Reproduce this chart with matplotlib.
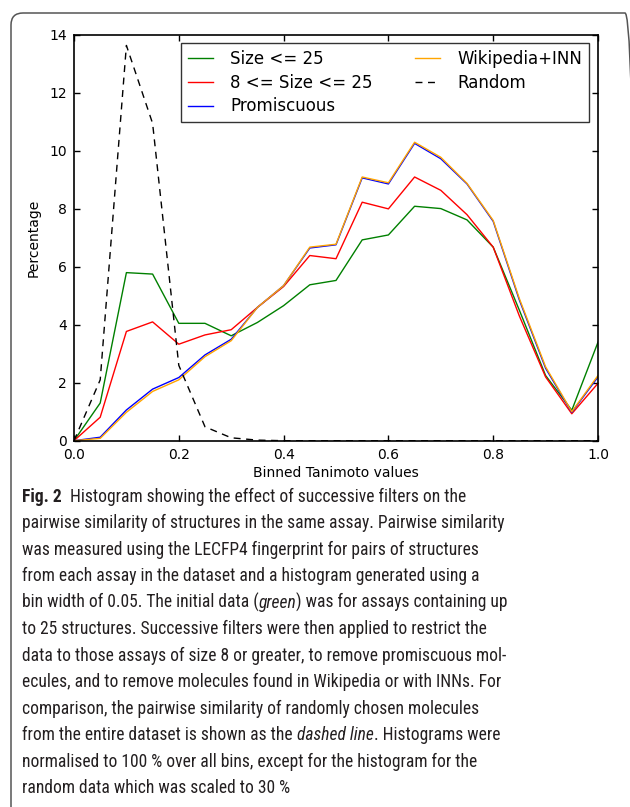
import matplotlib
matplotlib.use("Agg")
import matplotlib.pyplot as plt
from matplotlib import font_manager
from matplotlib.patches import FancyBboxPatch
from matplotlib.transforms import IdentityTransform

# ビン（Tanimoto値）
bins = [0.0, 0.05, 0.10, 0.15, 0.20, 0.25, 0.30, 0.35, 0.40, 0.45, 0.50,
        0.55, 0.60, 0.65, 0.70, 0.75, 0.80, 0.85, 0.90, 0.95, 1.0]

# 各フィルタ後のヒストグラム（%）
size_le_25 = [0.0, 1.3, 5.8, 5.75, 4.05, 4.05, 3.62, 4.08, 4.66, 5.38, 5.53,
              6.93, 7.1, 8.09, 8.01, 7.62, 6.68, 4.5, 2.25, 1.05, 3.4]
size_8_25 = [0.0, 0.81, 3.77, 4.1, 3.33, 3.65, 3.83, 4.6, 5.32, 6.39, 6.28,
             8.23, 8.0, 9.1, 8.64, 7.8, 6.68, 4.3, 2.2, 0.93, 1.98]
promiscuous = [0.0, 0.12, 1.06, 1.78, 2.18, 2.96, 3.5, 4.6, 5.35, 6.65, 6.76,
               9.07, 8.86, 10.26, 9.73, 8.86, 7.57, 4.85, 2.5, 0.98, 2.2]
wiki_inn = [0.0, 0.08, 0.98, 1.7, 2.1, 2.9, 3.45, 4.6, 5.35, 6.68, 6.78,
            9.1, 8.9, 10.3, 9.78, 8.88, 7.6, 4.9, 2.55, 1.0, 2.25]
random_pairs = [0.0, 2.1, 13.64, 10.95, 2.6, 0.48, 0.1, 0.02, 0.0, 0.0, 0.0,
                0.0, 0.0, 0.0, 0.0, 0.0, 0.0, 0.0, 0.0, 0.0, 0.0]

series = [
    ("Size <= 25", size_le_25, "green", "-"),
    ("8 <= Size <= 25", size_8_25, "red", "-"),
    ("Promiscuous", promiscuous, "blue", "-"),
    ("Wikipedia+INN", wiki_inn, "orange", "-"),
    ("Random", random_pairs, "black", "--"),
]

x_ticks = [0.0, 0.2, 0.4, 0.6, 0.8, 1.0]
y_ticks = [0, 2, 4, 6, 8, 10, 12, 14]

# キャプション（太字・斜体の部分を分けて記述）
caption_lines = [
    [("Fig. 2", "bold", "normal"), ("  Histogram showing the effect of successive filters on the", "normal", "normal")],
    [("pairwise similarity of structures in the same assay. Pairwise similarity", "normal", "normal")],
    [("was measured using the LECFP4 fingerprint for pairs of structures", "normal", "normal")],
    [("from each assay in the dataset and a histogram generated using a", "normal", "normal")],
    [("bin width of 0.05. The initial data (", "normal", "normal"), ("green", "normal", "italic"),
     (") was for assays containing up", "normal", "normal")],
    [("to 25 structures. Successive filters were then applied to restrict the", "normal", "normal")],
    [("data to those assays of size 8 or greater, to remove promiscuous mol-", "normal", "normal")],
    [("ecules, and to remove molecules found in Wikipedia or with INNs. For", "normal", "normal")],
    [("comparison, the pairwise similarity of randomly chosen molecules", "normal", "normal")],
    [("from the entire dataset is shown as the ", "normal", "normal"), ("dashed line", "normal", "italic"),
     (". Histograms were", "normal", "normal")],
    [("normalised to 100 % over all bins, except for the histogram for the", "normal", "normal")],
    [("random data which was scaled to 30 %", "normal", "normal")],
]


def first_font(names):
    # インストール済みの最初のフォントを返す
    for n in names:
        try:
            font_manager.findfont(font_manager.FontProperties(family=n), fallback_to_default=False)
            return n
        except Exception:
            continue
    return "DejaVu Sans"


W, H = 630, 807
fig = plt.figure(figsize=(W / 100, H / 100), dpi=100)
fig.patch.set_facecolor("white")

# 外枠（角丸、ピクセル座標）
frame = FancyBboxPatch((11, -20), 626, H - 13 + 20,
                       boxstyle="round,pad=0,rounding_size=12",
                       transform=IdentityTransform(), fill=False,
                       edgecolor="#555555", linewidth=1.1, clip_on=False)
fig.patches.append(frame)

ax = fig.add_axes([74 / W, 1 - 440.7 / H, (598 - 74) / W, (440.7 - 35) / H])

for label, vals, color, ls in series:
    if ls == "--":
        ax.plot(bins, vals, color=color, linewidth=1.0, label=label, dashes=(5, 4))
    else:
        ax.plot(bins, vals, color=color, linestyle=ls, linewidth=1.0, label=label)

ax.set_xlim(0, 1)
ax.set_ylim(0, 14)
ax.set_xticks(x_ticks)
ax.set_yticks(y_ticks)
ax.set_xticklabels([f"{v:.1f}" for v in x_ticks])
ax.tick_params(direction="in", top=True, right=True, length=4, width=1, labelsize=10, pad=5)
for sp in ax.spines.values():
    sp.set_linewidth(1.2)

ax.set_xlabel("Binned Tanimoto values", fontsize=10, labelpad=3)
ax.set_ylabel("Percentage", fontsize=10, labelpad=6)

leg = ax.legend(loc="upper right", bbox_to_anchor=(0.983, 0.980), borderaxespad=0,
                ncol=2, fontsize=12, frameon=True, fancybox=False,
                handlelength=1.5, handletextpad=1.05, columnspacing=2.55,
                labelspacing=0.35, borderpad=0.4)
leg.get_frame().set_edgecolor("black")
leg.get_frame().set_linewidth(1.0)

# キャプション描画
fig.canvas.draw()
renderer = fig.canvas.get_renderer()
cap_font = first_font(["Liberation Sans Narrow", "Roboto Condensed", "Noto Sans Condensed",
                       "Noto Sans CJK JP", "Open Sans"])
ital_font = cap_font if cap_font in ("Liberation Sans Narrow", "Roboto Condensed") \
    else first_font(["Noto Sans", "Open Sans", "Lato"])
x0 = 22
y_first = 497
line_step = 26.45
target_w = 483  # 5行目の幅（参照画像から）

# 5行目の幅から文字サイズを決める
probe = 10.0
w = 0
for text, weight, style in caption_lines[4]:
    fam = ital_font if style == "italic" else cap_font
    t = fig.text(0, 0, text, fontsize=probe, family=[fam, "DejaVu Sans"],
                 fontweight=weight, fontstyle=style)
    w += t.get_window_extent(renderer=renderer).width
    t.remove()
cap_size = probe * target_w / w

for i, runs in enumerate(caption_lines):
    x = x0
    y = y_first + i * line_step
    for text, weight, style in runs:
        fam = ital_font if style == "italic" else cap_font
        t = fig.text(x / W, 1 - y / H, text, fontsize=cap_size, family=[fam, "DejaVu Sans"],
                     fontweight=weight, fontstyle=style, va="center", ha="left",
                     color="#231f20")
        bb = t.get_window_extent(renderer=renderer)
        x += bb.width

fig.savefig("out.png", dpi=100, facecolor="white")
